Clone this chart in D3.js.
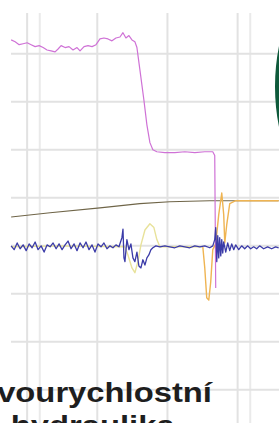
<!DOCTYPE html>
<html>
<head>
<meta charset="utf-8">
<script src="https://d3js.org/d3.v7.min.js"></script>
<style>
  body { margin: 0; background: #fff; }
  .grid line { stroke: #e2e2e2; stroke-width: 2; }
  .line { fill: none; stroke-linejoin: round; }
</style>
</head>
<body>
<div id="my_dataviz"></div>
<script>
// set the dimensions of the graph
const width = 279, height = 423;

// ---------------------------------- data (time in ms, signal in divisions)
const gridTimes = [0, 1.8, 10, 20, 30, 31.8];
const gridLevels = [-3, -2, -1, 0, 1, 2, 3, 4];

const pressT = [-2.28,-1.71,-1.14,-0.57,0,0.57,1.14,1.71,2.28,2.84,3.41,3.98,4.41,4.84,5.41,5.97,6.54,7.11,7.54,8.11,8.68,9.25,9.82,10.38,10.95,11.52,12.09,12.66,13.23,13.66,14.08,14.51,14.94,15.36,15.65,16.07,16.64,17.07,17.5,17.92,18.49,19.63,21.05,22.48,23.9,25.32,26.46,26.74,26.88];
const pressV = [4.29,4.25,4.19,4.21,4.23,4.19,4.15,4.17,4.13,4.08,4.06,4.04,4.1,4.17,4.13,4.15,4.08,4.13,4.06,4.15,4.17,4.15,4.19,4.31,4.33,4.31,4.27,4.33,4.35,4.44,4.33,4.38,4.29,4.25,4.13,3.67,3.04,2.52,2.15,2.0,1.96,1.94,1.94,1.96,1.94,1.96,1.96,1.88,-0.88];

const rampT = [-2.28, 3.27, 10.38, 16.07, 20.34, 26.03, 35.85];
const rampV = [0.6, 0.69, 0.79, 0.88, 0.92, 0.94, 0.94];

const valveT = [-2.28,4.69,13.94,14.37,14.94,15.36,15.79,16.22,16.79,17.5,18.07,18.49,18.92,25.04];
const valveV = [-0.02,0,-0.02,-0.19,-0.46,-0.56,-0.33,0.02,0.33,0.46,0.38,0.13,-0.02,-0.02];

const switchT = [25.04,25.32,25.6,25.89,26.17,26.46,26.88,27.31,27.74,28.02,28.17,28.45,28.88,29.73,35.85];
const switchV = [-0.02,-0.46,-1.08,-1.13,-0.75,-0.08,0.04,0.65,1.1,0.65,0.06,0.44,0.88,0.94,0.94];

const accelT = [-2.28,-1.85,-1.42,-1.0,-0.57,-0.14,0.28,0.71,1.14,1.56,1.99,2.42,2.84,3.27,3.7,4.13,4.55,4.98,5.41,5.83,6.26,6.69,7.11,7.54,7.97,8.39,8.82,9.25,9.67,10.1,10.53,10.95,11.38,11.81,12.23,12.66,13.09,13.51,13.66,13.8,13.94,14.22,14.51,14.79,15.08,15.36,15.65,15.93,16.22,16.5,16.79,17.07,17.35,17.64,17.92,18.35,18.92,19.63,20.34,21.05,21.76,22.48,23.19,23.9,24.61,25.32,26.03,26.46,26.74,26.88,27.03,27.17,27.31,27.45,27.6,27.74,27.88,28.02,28.31,28.59,28.88,29.16,29.45,29.73,30.16,30.58,31.01,31.44,31.86,32.29,32.72,33.14,33.71,34.28,34.85,35.42,35.85];
const accelV = [0,-0.08,0.06,-0.06,0.02,-0.1,0.04,-0.04,0.08,-0.08,0,-0.13,0.02,-0.02,0.06,-0.06,0.04,-0.08,0.02,0.1,-0.06,0.04,-0.1,0.06,-0.04,0.08,-0.08,0.02,-0.13,0.04,-0.02,0.06,-0.06,0,-0.04,0.02,-0.02,0.17,0.35,-0.25,-0.33,0.13,-0.08,0.04,-0.25,-0.33,-0.13,-0.42,-0.46,-0.29,-0.4,-0.25,-0.19,-0.08,-0.04,0,-0.02,0,-0.02,-0.04,0,-0.02,-0.04,0,-0.02,0,-0.04,0,0.13,0.38,-0.33,0.21,-0.25,0.17,-0.21,0.13,-0.15,0.08,-0.13,0.06,-0.1,0.04,-0.08,0.02,-0.08,0,-0.06,0,-0.06,-0.02,-0.06,0,-0.06,-0.02,-0.06,-0.02,-0.04];

const titleLines = ["Dvourychlostní", "hydraulika"];

// ---------------------------------- svg
const svg = d3.select("#my_dataviz")
  .append("svg")
    .attr("width", width)
    .attr("height", height);

// set the ranges
const x = d3.scaleLinear().domain([-2.3, 35.9]).range([11, 279]);
const y = d3.scaleLinear().domain([-3.69, 4.85]).range([423, 13]);

// ---------------------------------- grid
const grid = svg.append("g").attr("class", "grid");
grid.selectAll(".gx")
  .data(gridTimes)
  .join("line")
    .attr("x1", d => x(d)).attr("x2", d => x(d))
    .attr("y1", y(4.85)).attr("y2", y(-3.69))
    .style("opacity", (d, i) => (i === 1 || i === 5) ? 0.7 : 1);
grid.selectAll(".gy")
  .data(gridLevels)
  .join("line")
    .attr("x1", x(-2.3)).attr("x2", x(35.9))
    .attr("y1", d => y(d)).attr("y2", d => y(d));

// ---------------------------------- lines
function zip(ts, vs) { return ts.map((t, i) => [t, vs[i]]); }

const valueline = d3.line()
    .x(d => x(d[0]))
    .y(d => y(d[1]));

svg.append("path")
    .data([zip(rampT, rampV)])
    .attr("class", "line")
    .style("stroke", "#6f6548")
    .style("stroke-width", 1.1)
    .attr("d", valueline);

svg.append("path")
    .data([zip(valveT, valveV)])
    .attr("class", "line")
    .style("stroke", "#e8e29a")
    .style("stroke-width", 1.4)
    .attr("d", valueline);

svg.append("path")
    .data([zip(switchT, switchV)])
    .attr("class", "line")
    .style("stroke", "#efb452")
    .style("stroke-width", 1.4)
    .attr("d", valueline);

svg.append("path")
    .data([zip(pressT, pressV)])
    .attr("class", "line")
    .style("stroke", "#cf72d6")
    .style("stroke-width", 1.2)
    .attr("d", valueline);

svg.append("path")
    .data([zip(accelT, accelV)])
    .attr("class", "line")
    .style("stroke", "#3b3ba8")
    .style("stroke-width", 1.3)
    .attr("d", valueline);

// ---------------------------------- green frame at the right edge
svg.append("circle")
    .attr("cx", 481)
    .attr("cy", y(3.32))
    .attr("r", 204)
    .style("fill", "#fff")
    .style("stroke", "#0e5a3b")
    .style("stroke-width", 4);

// ---------------------------------- title (slightly wide bold face)
svg.append("g")
    .attr("transform", "translate(92.7,0) scale(1.17,1)")
  .selectAll("text")
  .data(titleLines)
  .join("text")
    .attr("x", 0)
    .attr("y", (d, i) => 402 + i * 33)
    .attr("text-anchor", "middle")
    .style("font-family", "'Liberation Sans', Arial, sans-serif")
    .style("font-weight", "bold")
    .style("font-size", "28px")
    .style("fill", "#1e1e1e")
    .text(d => d);
</script>
</body>
</html>
